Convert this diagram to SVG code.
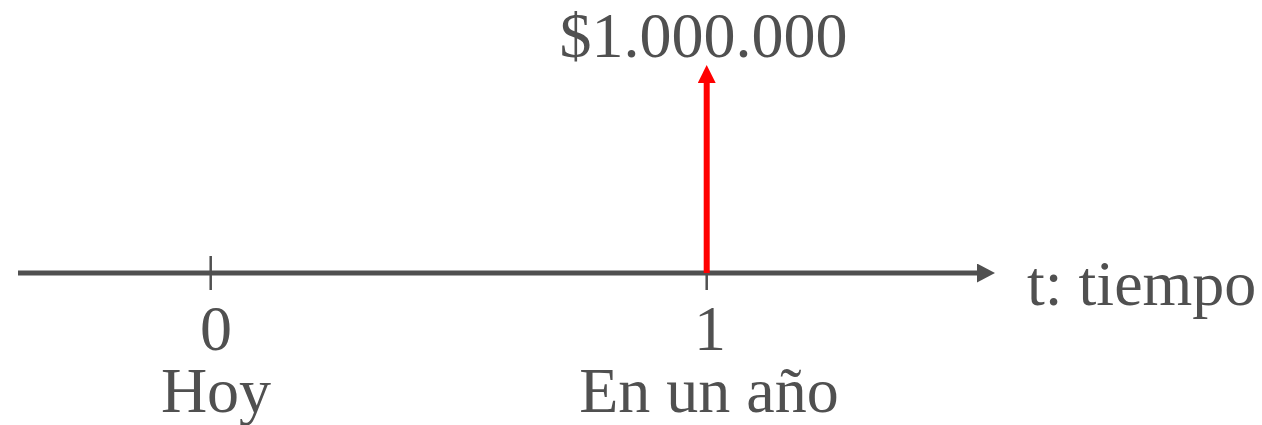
<svg xmlns="http://www.w3.org/2000/svg" width="1262" height="425" viewBox="0 0 1262 425">
<style>
text{font-family:"Liberation Serif","Times New Roman",serif;font-size:64px;fill:#505050}
.axis{stroke:#505050;stroke-width:5;fill:none}
.tick{stroke:#505050;stroke-width:2.5}
</style>
<defs>
<marker id="ah" markerUnits="userSpaceOnUse" markerWidth="18" markerHeight="19" refX="0" refY="9.5" orient="auto">
<path d="M0,0 L18,9.5 L0,19 Z" fill="#505050"/>
</marker>
<marker id="rh" markerUnits="userSpaceOnUse" markerWidth="18" markerHeight="18" refX="0" refY="9" orient="auto">
<path d="M0,0 L18,9 L0,18 Z" fill="#ff0000"/>
</marker>
</defs>
<g id="connectors">
<line id="axis" class="axis" x1="18" y1="273" x2="977" y2="273" marker-end="url(#ah)"/>
<line id="tick0" class="tick" x1="210.7" y1="256" x2="210.7" y2="290"/>
<line id="tick1" class="tick" x1="706.7" y1="256" x2="706.7" y2="290"/>
<line id="cashflow" stroke="#ff0000" stroke-width="6" x1="706.7" y1="273" x2="706.7" y2="83" marker-end="url(#rh)"/>
</g>
<g id="amount"><text x="703.5" y="57" text-anchor="middle">$1.000.000</text></g>
<g id="axis-label"><text x="1027" y="305">t: tiempo</text></g>
<g id="period0"><text text-anchor="middle"><tspan x="216" y="350">0</tspan><tspan x="216" y="412">Hoy</tspan></text></g>
<g id="period1"><text text-anchor="middle"><tspan x="710" y="350">1</tspan><tspan x="709" y="412">En un año</tspan></text></g>
</svg>
